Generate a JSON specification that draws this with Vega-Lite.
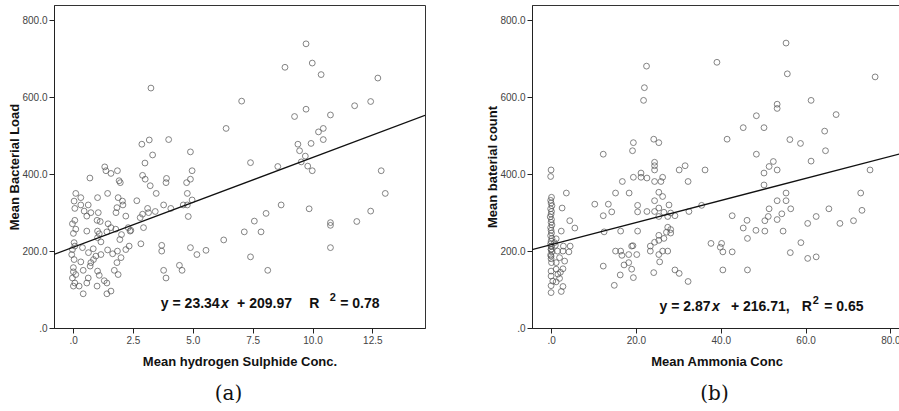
{
  "$schema": "https://vega.github.io/schema/vega-lite/v6.json",
  "background": "white",
  "padding": {"left": 7, "top": 4, "right": 0, "bottom": 0},
  "spacing": 59,
  "config": {
    "view": {"stroke": "#333", "strokeWidth": 1},
    "axis": {"labelFont": "Liberation Sans", "labelFontSize": 10, "labelColor": "#444", "titleFont": "Liberation Sans", "titleFontSize": 13, "titleFontWeight": "bold", "titleColor": "#111", "domainColor": "#222", "tickColor": "#222", "grid": false, "tickSize": 5, "labelPadding": 2},
    "title": {"font": "DejaVu Serif", "fontSize": 20, "fontWeight": "normal", "color": "#111", "orient": "bottom", "frame": "group", "offset": 16},
    "text": {"font": "Liberation Sans", "fontSize": 14, "fontWeight": "bold", "color": "#111", "align": "left", "baseline": "middle"}
  },
  "datasets": {
    "h2s": [
      {"x":9.73,"y":739},{"x":8.85,"y":678},{"x":9.99,"y":689},{"x":10.36,"y":659},{"x":12.73,"y":650},{"x":3.25,"y":624},{"x":7.04,"y":590},{"x":12.43,"y":589},{"x":11.76,"y":578},{"x":9.73,"y":569},{"x":9.25,"y":550},{"x":10.75,"y":554},{"x":6.39,"y":519},{"x":10.45,"y":519},{"x":10.25,"y":510},{"x":10.45,"y":490},{"x":9.39,"y":478},{"x":9.46,"y":461},{"x":9.94,"y":480},{"x":9.70,"y":447},{"x":9.53,"y":432},{"x":9.80,"y":421},{"x":9.99,"y":409},{"x":8.55,"y":420},{"x":7.41,"y":430},{"x":12.87,"y":409},{"x":13.04,"y":350},{"x":9.86,"y":310},{"x":8.69,"y":320},{"x":8.06,"y":298},{"x":7.57,"y":278},{"x":7.15,"y":250},{"x":7.85,"y":250},{"x":6.29,"y":229},{"x":7.41,"y":185},{"x":8.13,"y":150},{"x":10.75,"y":274},{"x":10.75,"y":267},{"x":10.75,"y":209},{"x":11.85,"y":277},{"x":12.43,"y":304},
      {"x":3.18,"y":489},{"x":3.99,"y":490},{"x":2.87,"y":478},{"x":3.32,"y":450},{"x":4.90,"y":458},{"x":3.0,"y":429},{"x":2.90,"y":397},{"x":3.01,"y":387},{"x":3.22,"y":370},{"x":3.47,"y":350},{"x":3.90,"y":389},{"x":3.88,"y":378},{"x":4.74,"y":378},{"x":4.90,"y":387},{"x":4.97,"y":409},{"x":4.77,"y":350},{"x":3.78,"y":320},{"x":4.08,"y":311},{"x":4.60,"y":320},{"x":4.77,"y":320},{"x":4.97,"y":333},{"x":3.11,"y":311},{"x":2.90,"y":296},{"x":3.15,"y":300},{"x":3.43,"y":303},{"x":2.80,"y":287},{"x":2.94,"y":261},{"x":2.66,"y":331},{"x":4.81,"y":290},{"x":2.83,"y":219},{"x":3.70,"y":215},{"x":3.70,"y":200},{"x":3.78,"y":150},{"x":3.88,"y":130},{"x":4.44,"y":163},{"x":4.55,"y":150},{"x":4.90,"y":209},{"x":5.17,"y":191},{"x":5.55,"y":202},{"x":2.41,"y":254},
      {"x":0.11,"y":350},{"x":0.70,"y":390},{"x":1.32,"y":419},{"x":1.37,"y":409},{"x":1.85,"y":409},{"x":1.92,"y":383},{"x":1.97,"y":378},{"x":1.58,"y":402},{"x":1.44,"y":350},{"x":1.02,"y":339},{"x":1.88,"y":339},{"x":2.06,"y":330},{"x":2.08,"y":320},{"x":1.83,"y":313},{"x":1.79,"y":300},{"x":2.20,"y":291},{"x":0.32,"y":320},{"x":0.63,"y":320},{"x":0.07,"y":311},{"x":0.46,"y":304},{"x":0.74,"y":300},{"x":1.05,"y":300},{"x":0.57,"y":291},{"x":1.0,"y":280},{"x":1.13,"y":277},{"x":1.46,"y":271},{"x":0.07,"y":280},{"x":-0.03,"y":271},{"x":0.11,"y":257},{"x":0.01,"y":246},{"x":0.57,"y":252},{"x":1.02,"y":252},{"x":1.09,"y":245},{"x":1.41,"y":250},{"x":1.58,"y":261},{"x":1.78,"y":257},{"x":2.02,"y":243},{"x":1.95,"y":230},{"x":2.38,"y":252},{"x":2.30,"y":261},{"x":1.02,"y":235},{"x":1.16,"y":224},{"x":0.04,"y":222},{"x":0.07,"y":213},{"x":-0.03,"y":204},{"x":-0.06,"y":191},{"x":0.04,"y":178},{"x":0.39,"y":209},{"x":0.64,"y":196},{"x":0.84,"y":206},{"x":0.95,"y":187},{"x":1.16,"y":191},{"x":1.44,"y":203},{"x":1.65,"y":193},{"x":1.85,"y":200},{"x":2.20,"y":204},{"x":2.34,"y":213},{"x":0.74,"y":170},{"x":0.71,"y":161},{"x":0.85,"y":178},{"x":0.32,"y":172},{"x":0.01,"y":157},{"x":0.01,"y":146},{"x":0.11,"y":139},{"x":-0.03,"y":130},{"x":0.07,"y":117},{"x":0.01,"y":109},{"x":0.25,"y":109},{"x":0.42,"y":150},{"x":0.63,"y":130},{"x":0.57,"y":117},{"x":0.42,"y":89},{"x":1.02,"y":148},{"x":1.09,"y":137},{"x":1.0,"y":109},{"x":1.30,"y":123},{"x":1.41,"y":117},{"x":1.41,"y":89},{"x":1.58,"y":96},{"x":1.72,"y":150},{"x":1.88,"y":139},{"x":1.83,"y":170},{"x":2.0,"y":183},{"x":0.04,"y":330},{"x":0.32,"y":339}
    ],
    "ammonia": [
      {"x":55.4,"y":741},{"x":39.1,"y":691},{"x":22.5,"y":681},{"x":55.7,"y":661},{"x":76.4,"y":653},{"x":22.0,"y":625},{"x":21.8,"y":592},{"x":61.3,"y":592},{"x":53.3,"y":582},{"x":53.3,"y":571},{"x":67.2,"y":555},{"x":48.4,"y":552},{"x":50.2,"y":521},{"x":45.3,"y":521},{"x":64.5,"y":512},{"x":41.5,"y":491},{"x":56.3,"y":490},{"x":58.8,"y":480},{"x":64.7,"y":461},{"x":48.4,"y":452},{"x":61.3,"y":434},{"x":52.4,"y":433},{"x":51.4,"y":420},{"x":53.3,"y":411},{"x":50.2,"y":403},{"x":75.2,"y":411},{"x":50.2,"y":372},{"x":55.4,"y":351},{"x":55.4,"y":331},{"x":53.3,"y":331},{"x":51.4,"y":310},{"x":56.5,"y":310},{"x":54.4,"y":297},{"x":51.2,"y":290},{"x":53.3,"y":282},{"x":50.4,"y":279},{"x":62.5,"y":290},{"x":65.5,"y":310},{"x":73.0,"y":351},{"x":73.3,"y":306},{"x":71.3,"y":279},{"x":68.1,"y":272},{"x":60.5,"y":272},{"x":54.7,"y":252},{"x":50.4,"y":252},{"x":48.3,"y":254},{"x":46.2,"y":280},{"x":45.3,"y":260},{"x":46.3,"y":233},{"x":58.9,"y":222},{"x":56.4,"y":196},{"x":60.5,"y":181},{"x":62.5,"y":185},{"x":46.3,"y":151},{"x":42.7,"y":198},{"x":40.5,"y":198},{"x":40.2,"y":220},{"x":39.9,"y":210},{"x":37.7,"y":220},{"x":40.5,"y":151},{"x":42.7,"y":292},{"x":35.5,"y":319},{"x":36.3,"y":411},{"x":32.3,"y":381},{"x":31.6,"y":422},{"x":30.2,"y":411},{"x":32.5,"y":303},{"x":29.2,"y":292},{"x":28.2,"y":299},{"x":27.8,"y":320},{"x":26.3,"y":342},{"x":25.4,"y":353},{"x":26.3,"y":392},{"x":25.9,"y":381},{"x":24.4,"y":381},{"x":24.4,"y":411},{"x":24.4,"y":422},{"x":24.4,"y":431},{"x":24.2,"y":491},{"x":25.4,"y":482},{"x":19.4,"y":482},{"x":19.2,"y":461},{"x":19.4,"y":392},{"x":21.2,"y":403},{"x":21.2,"y":392},{"x":22.6,"y":390},{"x":18.4,"y":351},{"x":15.2,"y":351},{"x":16.8,"y":381},{"x":12.3,"y":452},{"x":10.3,"y":322},{"x":13.5,"y":322},{"x":14.3,"y":302},{"x":12.3,"y":292},{"x":12.5,"y":250},{"x":16.4,"y":252},{"x":20.4,"y":319},{"x":20.4,"y":302},{"x":22.6,"y":303},{"x":24.4,"y":331},{"x":25.4,"y":312},{"x":25.4,"y":290},{"x":26.6,"y":301},{"x":27.5,"y":290},{"x":20.4,"y":252},{"x":24.4,"y":303},{"x":25.4,"y":241},{"x":25.4,"y":228},{"x":26.6,"y":233},{"x":27.5,"y":262},{"x":28.2,"y":256},{"x":28.2,"y":247},{"x":27.2,"y":249},{"x":23.4,"y":213},{"x":23.4,"y":200},{"x":24.4,"y":223},{"x":26.3,"y":200},{"x":27.5,"y":200},{"x":25.4,"y":191},{"x":25.6,"y":172},{"x":24.2,"y":144},{"x":19.0,"y":213},{"x":19.3,"y":214},{"x":20.2,"y":191},{"x":18.3,"y":191},{"x":15.2,"y":200},{"x":16.4,"y":200},{"x":16.7,"y":189},{"x":17.2,"y":164},{"x":18.3,"y":170},{"x":19.0,"y":153},{"x":19.4,"y":131},{"x":16.3,"y":138},{"x":14.9,"y":111},{"x":12.3,"y":161},{"x":29.2,"y":151},{"x":30.2,"y":142},{"x":32.3,"y":121},
      {"x":0.0,"y":411},{"x":-0.1,"y":394},{"x":0.1,"y":340},{"x":-0.1,"y":332},{"x":0.0,"y":325},{"x":0.2,"y":318},{"x":-0.1,"y":310},{"x":0.1,"y":303},{"x":0.0,"y":296},{"x":-0.2,"y":289},{"x":0.1,"y":282},{"x":0.0,"y":275},{"x":0.2,"y":268},{"x":-0.1,"y":261},{"x":0.0,"y":254},{"x":0.1,"y":247},{"x":-0.1,"y":240},{"x":0.2,"y":233},{"x":0.0,"y":226},{"x":-0.1,"y":219},{"x":0.1,"y":212},{"x":0.0,"y":205},{"x":0.2,"y":198},{"x":-0.1,"y":190},{"x":0.0,"y":180},{"x":0.1,"y":170},
      {"x":3.6,"y":351},{"x":2.6,"y":312},{"x":4.4,"y":279},{"x":5.6,"y":260},{"x":2.4,"y":252},{"x":1.2,"y":232},{"x":2.9,"y":213},{"x":4.5,"y":213},{"x":4.2,"y":198},{"x":2.8,"y":200},{"x":3.2,"y":174},{"x":2.8,"y":154},{"x":1.2,"y":153},{"x":1.6,"y":140},{"x":2.0,"y":129},{"x":1.2,"y":120},{"x":2.8,"y":108},{"x":2.4,"y":95},{"x":0.0,"y":92},{"x":0.0,"y":110},{"x":0.4,"y":122},{"x":0.0,"y":135},{"x":0.0,"y":148},{"x":1.2,"y":170},{"x":2.0,"y":183},{"x":0.0,"y":187},{"x":0.0,"y":204},{"x":0.0,"y":213},{"x":0.8,"y":222},{"x":1.5,"y":200},{"x":1.0,"y":215},{"x":2.2,"y":145}
    ],
    "lineA": [{"x":-0.8,"y":191.3},{"x":14.7,"y":553.1}],
    "lineB": [{"x":-4.5,"y":203.8},{"x":82.5,"y":453.5}],
    "eqAleft": [{"x":6.12,"y":62,"label":"y = 23.34"}],
    "eqA": [{"x":6.85,"y":62,"label":"+ 209.97"},{"x":9.86,"y":62,"label":"R"},{"x":11.16,"y":62,"label":"= 0.78"}],
    "eqAx": [{"x":6.18,"y":62,"label":"x"}],
    "eqAsup": [{"x":10.72,"y":62,"label":"2"}],
    "eqBleft": [{"x":37.6,"y":54,"label":"y = 2.87"}],
    "eqB": [{"x":42.4,"y":54,"label":"+ 216.71,"},{"x":59.1,"y":54,"label":"R"},{"x":64.4,"y":54,"label":"= 0.65"}],
    "eqBx": [{"x":37.95,"y":54,"label":"x"}],
    "eqBsup": [{"x":61.7,"y":54,"label":"2"}]
  },
  "hconcat": [
    {
      "width": 371,
      "height": 323,
      "title": {"text": "(a)", "dx": -11},
      "layer": [
        {
          "data": {"name": "h2s"},
          "mark": {"type": "point", "shape": "circle", "filled": false, "size": 34, "stroke": "#555", "strokeWidth": 0.8, "opacity": 0.9},
          "encoding": {
            "x": {"field": "x", "type": "quantitative", "scale": {"domain": [-0.8, 14.7], "nice": false, "zero": false}, "axis": {"title": "Mean hydrogen Sulphide Conc.", "values": [0, 2.5, 5, 7.5, 10, 12.5], "labelExpr": "datum.value == 0 ? '.0' : format(datum.value, '.1f')", "titlePadding": 10}},
            "y": {"field": "y", "type": "quantitative", "scale": {"domain": [0, 840], "nice": false}, "axis": {"title": "Mean Bacterial Load", "values": [0, 200, 400, 600, 800], "labelExpr": "datum.value == 0 ? '.0' : format(datum.value, '.1f')", "minExtent": 30, "maxExtent": 30, "titlePadding": 3}}
          }
        },
        {
          "data": {"name": "lineA"},
          "mark": {"type": "line", "color": "#111", "strokeWidth": 1.3, "clip": true},
          "encoding": {"x": {"field": "x", "type": "quantitative"}, "y": {"field": "y", "type": "quantitative"}}
        },
        {
          "data": {"name": "eqAleft"},
          "mark": {"type": "text", "align": "right"},
          "encoding": {"x": {"field": "x", "type": "quantitative"}, "y": {"field": "y", "type": "quantitative"}, "text": {"field": "label"}}
        },
        {
          "data": {"name": "eqA"},
          "mark": {"type": "text"},
          "encoding": {"x": {"field": "x", "type": "quantitative"}, "y": {"field": "y", "type": "quantitative"}, "text": {"field": "label"}}
        },
        {
          "data": {"name": "eqAx"},
          "mark": {"type": "text", "fontStyle": "italic"},
          "encoding": {"x": {"field": "x", "type": "quantitative"}, "y": {"field": "y", "type": "quantitative"}, "text": {"field": "label"}}
        },
        {
          "data": {"name": "eqAsup"},
          "mark": {"type": "text", "fontSize": 11, "dy": -6},
          "encoding": {"x": {"field": "x", "type": "quantitative"}, "y": {"field": "y", "type": "quantitative"}, "text": {"field": "label"}}
        }
      ]
    },
    {
      "width": 369,
      "height": 323,
      "title": {"text": "(b)", "dx": -2},
      "layer": [
        {
          "data": {"name": "ammonia"},
          "mark": {"type": "point", "shape": "circle", "filled": false, "size": 34, "stroke": "#555", "strokeWidth": 0.8, "opacity": 0.9},
          "encoding": {
            "x": {"field": "x", "type": "quantitative", "scale": {"domain": [-4.5, 82.5], "nice": false, "zero": false}, "axis": {"title": "Mean Ammonia Conc", "values": [0, 20, 40, 60, 80], "labelExpr": "datum.value == 0 ? '.0' : format(datum.value, '.1f')", "titlePadding": 10}},
            "y": {"field": "y", "type": "quantitative", "scale": {"domain": [0, 840], "nice": false}, "axis": {"title": "Mean baterial count", "values": [0, 200, 400, 600, 800], "labelExpr": "datum.value == 0 ? '.0' : format(datum.value, '.1f')", "minExtent": 30, "maxExtent": 30, "titlePadding": 3}}
          }
        },
        {
          "data": {"name": "lineB"},
          "mark": {"type": "line", "color": "#111", "strokeWidth": 1.3, "clip": true},
          "encoding": {"x": {"field": "x", "type": "quantitative"}, "y": {"field": "y", "type": "quantitative"}}
        },
        {
          "data": {"name": "eqBleft"},
          "mark": {"type": "text", "align": "right"},
          "encoding": {"x": {"field": "x", "type": "quantitative"}, "y": {"field": "y", "type": "quantitative"}, "text": {"field": "label"}}
        },
        {
          "data": {"name": "eqB"},
          "mark": {"type": "text"},
          "encoding": {"x": {"field": "x", "type": "quantitative"}, "y": {"field": "y", "type": "quantitative"}, "text": {"field": "label"}}
        },
        {
          "data": {"name": "eqBx"},
          "mark": {"type": "text", "fontStyle": "italic"},
          "encoding": {"x": {"field": "x", "type": "quantitative"}, "y": {"field": "y", "type": "quantitative"}, "text": {"field": "label"}}
        },
        {
          "data": {"name": "eqBsup"},
          "mark": {"type": "text", "fontSize": 11, "dy": -6},
          "encoding": {"x": {"field": "x", "type": "quantitative"}, "y": {"field": "y", "type": "quantitative"}, "text": {"field": "label"}}
        }
      ]
    }
  ]
}
